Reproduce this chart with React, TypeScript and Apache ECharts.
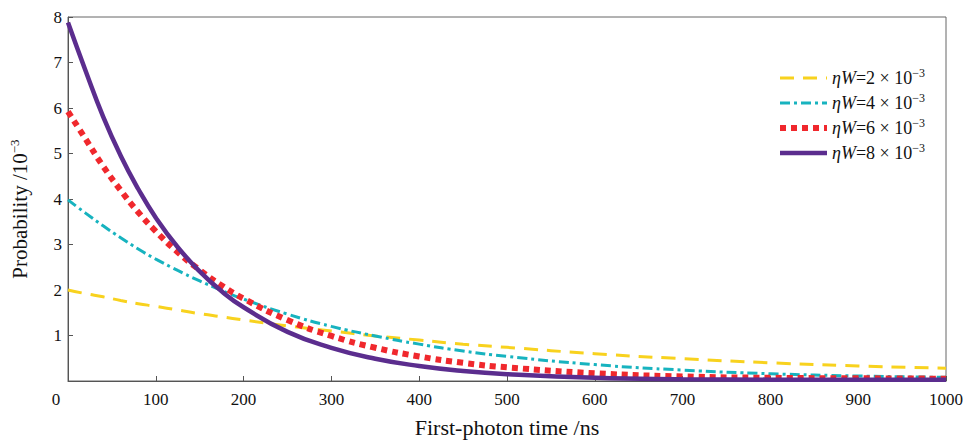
import React, { useEffect, useRef } from "react";
import * as echarts from "echarts";

const times = [0, 20, 40, 60, 80, 100, 125, 150, 175, 200, 250, 300, 350, 400, 450, 500, 600, 700, 800, 900, 1000];
const prob2 = [2.0, 1.92, 1.85, 1.77, 1.7, 1.64, 1.56, 1.48, 1.41, 1.34, 1.21, 1.1, 0.99, 0.9, 0.81, 0.74, 0.6, 0.49, 0.4, 0.33, 0.28];
const prob4 = [3.98, 3.69, 3.41, 3.15, 2.9, 2.68, 2.43, 2.2, 1.99, 1.8, 1.47, 1.2, 0.99, 0.81, 0.66, 0.54, 0.36, 0.24, 0.16, 0.11, 0.08];
const prob6 = [5.92, 5.32, 4.72, 4.19, 3.71, 3.29, 2.83, 2.44, 2.1, 1.81, 1.34, 0.99, 0.73, 0.54, 0.4, 0.3, 0.17, 0.1, 0.07, 0.06, 0.05];
const prob8 = [7.88, 6.82, 5.81, 4.95, 4.22, 3.59, 2.94, 2.41, 1.97, 1.62, 1.08, 0.73, 0.49, 0.33, 0.22, 0.15, 0.07, 0.04, 0.03, 0.03, 0.03];
const etaW = ["2", "4", "6", "8"];
const seriesNames = etaW.map((k) => `ηW=${k}×10^-3`);
const colors = ["#F8D21E", "#17B3BF", "#F0282D", "#5B2D8E"];
const FONT = "Liberation Serif";

export default function App() {
  const ref = useRef<HTMLDivElement>(null);
  useEffect(() => {
    if (!ref.current) return;
    const chart = echarts.init(ref.current, undefined, { renderer: "svg" });
    const all = [prob2, prob4, prob6, prob8];
    const styles: any[] = [
      { width: 3, type: [14, 9], dash: [14, 9] },
      { width: 3, type: [10, 4, 3, 4], dash: [10, 4, 3, 4] },
      { width: 6, type: [6, 5], dash: [6, 5] },
      { width: 4.5, type: "solid", dash: null },
    ];
    const legendX = 780;
    const legendY0 = 78;
    const legendStep = 25;
    const legendGraphics: any[] = [];
    seriesNames.forEach((name, i) => {
      const y = legendY0 + i * legendStep;
      legendGraphics.push({
        type: "line",
        shape: { x1: legendX, y1: y, x2: legendX + 47, y2: y },
        style: { stroke: colors[i], lineWidth: styles[i].width, lineDash: styles[i].dash, lineCap: "butt" },
      });
      legendGraphics.push({
        type: "text",
        x: legendX + 52,
        y,
        style: {
          text: `{i|ηW}{t|=${etaW[i]} × 10}{sup|−3}`,
          verticalAlign: "middle",
          align: "left",
          rich: {
            i: { fontFamily: FONT, fontStyle: "italic", fontSize: 18, fill: "#111" },
            t: { fontFamily: FONT, fontSize: 18, fill: "#111" },
            sup: { fontFamily: FONT, fontSize: 12, fill: "#111", padding: [0, 0, 10, 0] },
          },
        },
      });
    });
    chart.setOption({
      animation: false,
      textStyle: { fontFamily: FONT },
      grid: { left: 67, top: 17, right: 21, bottom: 58, show: true, borderColor: "#666", borderWidth: 1 },
      graphic: legendGraphics,
      xAxis: {
        type: "value",
        min: 0,
        max: 1000,
        interval: 100,
        name: "First-photon time /ns",
        nameLocation: "middle",
        nameGap: 35,
        nameTextStyle: { fontFamily: FONT, fontSize: 22, color: "#111" },
        axisLine: { lineStyle: { color: "#555", width: 1 } },
        axisTick: { inside: true, length: 5, lineStyle: { color: "#555" } },
        splitLine: { show: false },
        axisLabel: {
          margin: 10,
          fontFamily: FONT,
          fontSize: 17,
          color: "#111",
          formatter: (v: number) => (v === 0 ? "{o|0}" : String(v)),
          rich: { o: { fontFamily: FONT, fontSize: 17, color: "#111", padding: [0, 24, 0, 0] } },
        },
      },
      yAxis: {
        type: "value",
        min: 0,
        max: 8,
        interval: 1,
        name: "Probability /10{sup|−3}",
        nameLocation: "middle",
        nameRotate: 90,
        nameGap: 36,
        nameTextStyle: {
          fontFamily: FONT,
          fontSize: 21,
          color: "#111",
          padding: [0, 20, 0, 0],
          rich: { sup: { fontFamily: FONT, fontSize: 13, color: "#111", padding: [0, 0, 11, 0] } },
        },
        axisLine: { show: true, lineStyle: { color: "#555", width: 1 } },
        axisTick: { show: true, inside: true, length: 5, lineStyle: { color: "#555" } },
        splitLine: { show: false },
        axisLabel: {
          margin: 6,
          fontFamily: FONT,
          fontSize: 17,
          color: "#111",
          formatter: (v: number) => (v === 0 ? "" : String(v)),
        },
      },
      series: seriesNames.map((name, i) => ({
        name,
        type: "line",
        smooth: true,
        symbol: "none",
        showSymbol: false,
        clip: false,
        z: 2 + i,
        color: colors[i],
        lineStyle: { color: colors[i], width: styles[i].width, type: styles[i].type, cap: "butt" },
        data: times.map((t, j) => [t, all[i][j]]),
      })),
    });
    return () => chart.dispose();
  }, []);
  return <div ref={ref} style={{ position: "fixed", left: 0, top: 0, width: 967, height: 443, background: "#fff" }} />;
}
